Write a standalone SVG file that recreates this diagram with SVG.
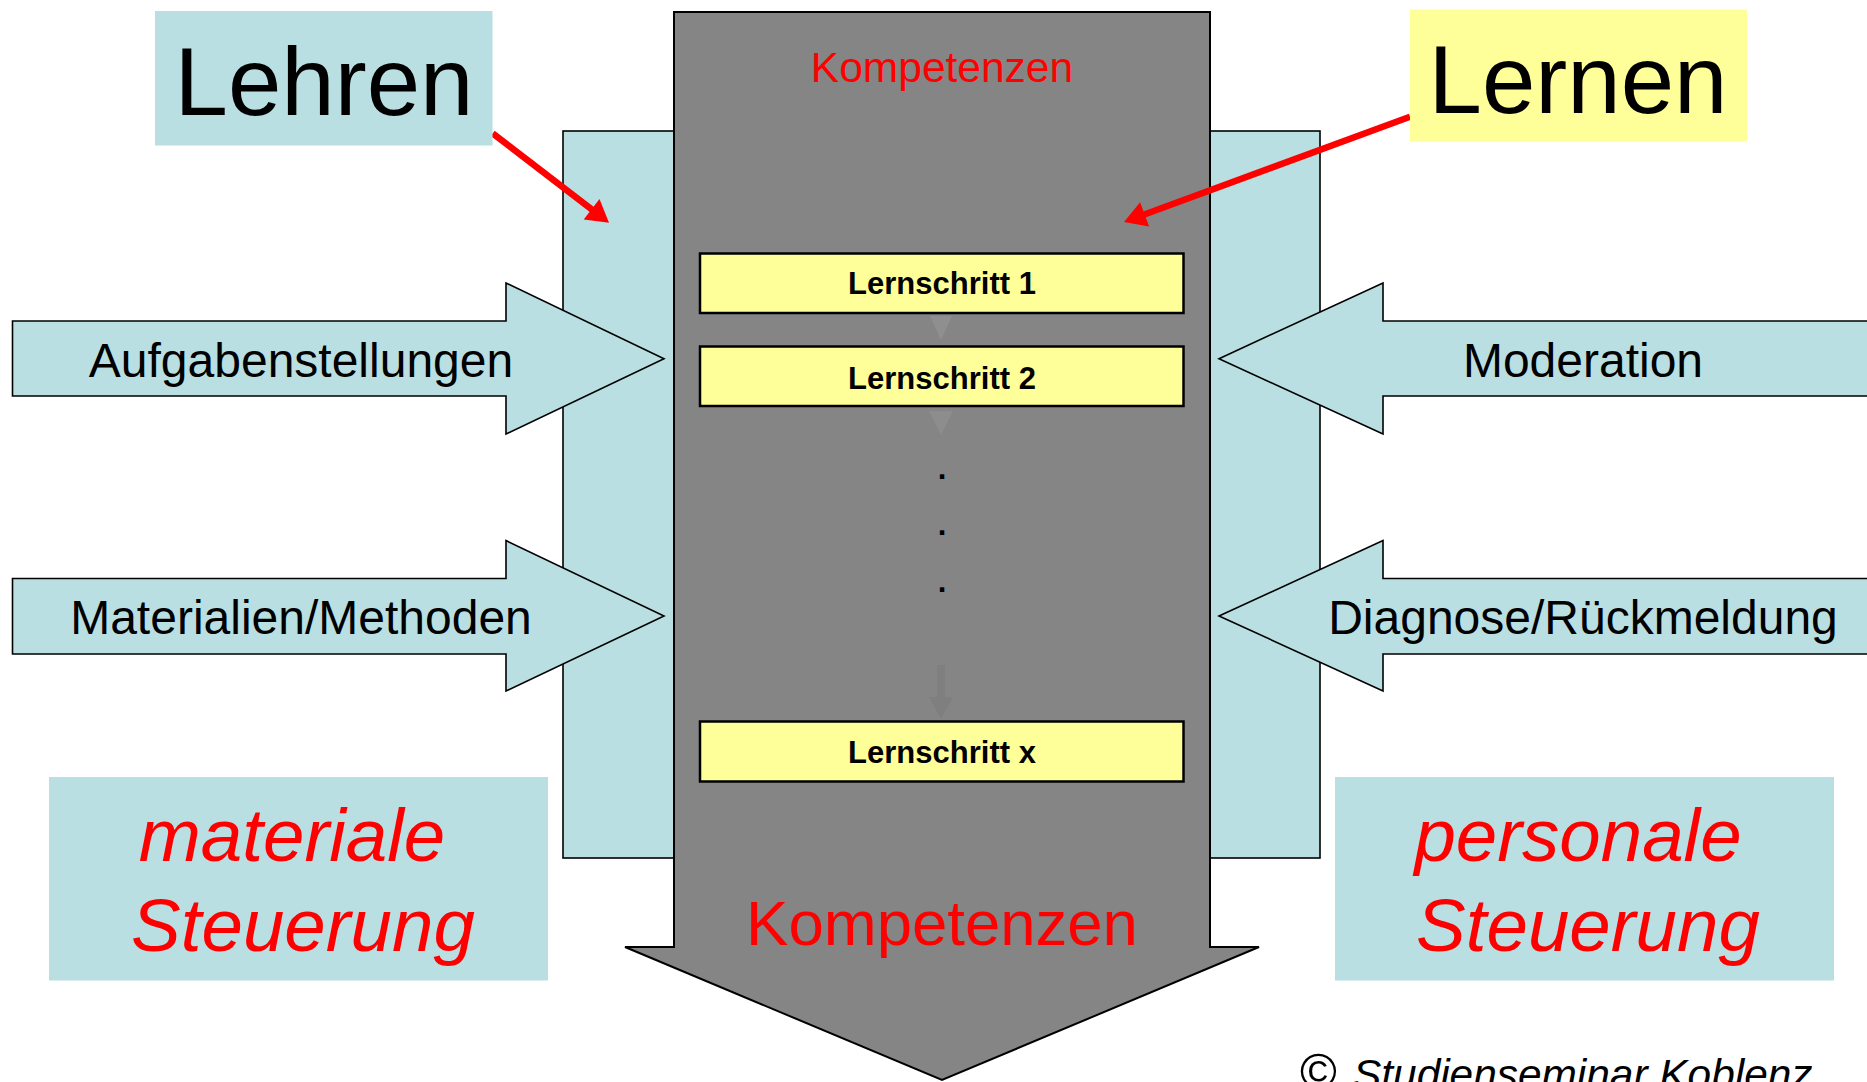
<svg xmlns="http://www.w3.org/2000/svg" width="1867" height="1082" viewBox="0 0 1867 1082">
  <style>
    .t { font-family: "Liberation Sans", Arial, sans-serif; }
    .blue { fill: #BADFE2; }
    .outl { stroke: #000; stroke-width: 1.6; stroke-linejoin: miter; }
    .yel { fill: #FFFF99; stroke: #000; stroke-width: 2.5; }
    .side { font-size: 48px; fill: #000; text-anchor: middle; }
    .step { font-size: 31px; font-weight: bold; fill: #000; text-anchor: middle; }
    .big { font-size: 96px; fill: #000; text-anchor: middle; }
    .steu { font-size: 74.5px; font-style: italic; fill: #FF0000; text-anchor: middle; }
    .red { stroke: #FF0000; stroke-width: 6.5; fill: none; }
    .redhead { fill: #FF0000; }
  </style>
  <rect x="0" y="0" width="1867" height="1082" fill="#FFFFFF"/>

  <g id="frame">
    <rect class="blue outl" x="563" y="131" width="757" height="727"/>
  </g>

  <g id="arrow-aufgaben">
    <polygon class="blue outl" points="12.5,321 506,321 506,283 664,358.7 506,434 506,396 12.5,396"/>
    <text class="t side" x="301" y="377">Aufgabenstellungen</text>
  </g>
  <g id="arrow-materialien">
    <polygon class="blue outl" points="12.5,578.5 506,578.5 506,540.6 664,616 506,691 506,654 12.5,654"/>
    <text class="t side" x="301" y="634">Materialien/Methoden</text>
  </g>
  <g id="arrow-moderation">
    <polygon class="blue outl" points="1219,358.7 1383,283 1383,321 1872,321 1872,396 1383,396 1383,434"/>
    <text class="t side" x="1583" y="377">Moderation</text>
  </g>
  <g id="arrow-diagnose">
    <polygon class="blue outl" points="1219,616 1383,540.6 1383,578.5 1872,578.5 1872,654 1383,654 1383,691"/>
    <text class="t side" x="1583" y="634">Diagnose/Rückmeldung</text>
  </g>

  <g id="kompetenzen-arrow">
    <polygon fill="#858585" stroke="#000" stroke-width="2" points="674,12 1210,12 1210,947 1259,947 942,1080 625,947 674,947"/>
    <text class="t" x="942" y="82" font-size="42.5" fill="#FF0000" text-anchor="middle">Kompetenzen</text>
    <text class="t" x="942" y="945" font-size="63.5" fill="#FF0000" text-anchor="middle">Kompetenzen</text>
  </g>

  <g id="connectors">
    <polygon fill="#8f8f8f" points="930,316 952,316 941,340"/>
    <polygon fill="#8d8d8d" points="929,411 953,411 941,435"/>
    <rect fill="#7f7f7f" x="937" y="665" width="8" height="32"/>
    <polygon fill="#7f7f7f" points="929,697 953,697 941,719"/>
    <line class="red" x1="492.7" y1="133.3" x2="593" y2="210.4"/>
    <polygon class="redhead" points="609,222.7 583.7,219.6 599.5,199"/>
    <line class="red" x1="1410" y1="116.7" x2="1143" y2="215"/>
    <polygon class="redhead" points="1124,222 1140.1,202.2 1149.1,226.6"/>
  </g>

  <g id="lernschritt-1">
    <rect class="yel" x="700" y="253.5" width="483.5" height="59.5"/>
    <text class="t step" x="942" y="294">Lernschritt 1</text>
  </g>
  <g id="lernschritt-2">
    <rect class="yel" x="700" y="346.5" width="483.5" height="59.5"/>
    <text class="t step" x="942" y="388.5">Lernschritt 2</text>
  </g>
  <g id="dots">
    <text class="t step" x="942" y="479">.</text>
    <text class="t step" x="942" y="535">.</text>
    <text class="t step" x="942" y="592">.</text>
  </g>
  <g id="lernschritt-x">
    <rect class="yel" x="700" y="721.5" width="483.5" height="60"/>
    <text class="t step" x="942" y="763">Lernschritt x</text>
  </g>

  <g id="lehren">
    <rect class="blue" x="155" y="11" width="337.5" height="134.5"/>
    <text class="t big" x="324" y="114.5">Lehren</text>
  </g>
  <g id="lernen">
    <rect fill="#FFFF99" x="1410" y="9.5" width="337" height="132"/>
    <text class="t big" x="1578" y="113">Lernen</text>
  </g>

  <g id="materiale-steuerung">
    <rect class="blue" x="49" y="777" width="499" height="203.5"/>
    <text class="t steu" x="292" y="861">materiale</text>
    <text class="t steu" x="303" y="951">Steuerung</text>
  </g>
  <g id="personale-steuerung">
    <rect class="blue" x="1335" y="777" width="499" height="203.5"/>
    <text class="t steu" x="1578" y="861">personale</text>
    <text class="t steu" x="1588" y="951">Steuerung</text>
  </g>

  <g id="copyright">
    <text class="t" y="1089" fill="#000"><tspan x="1300" font-size="50">©</tspan><tspan x="1353" font-size="42.4" font-style="italic">Studienseminar Koblenz</tspan></text>
  </g>
</svg>
